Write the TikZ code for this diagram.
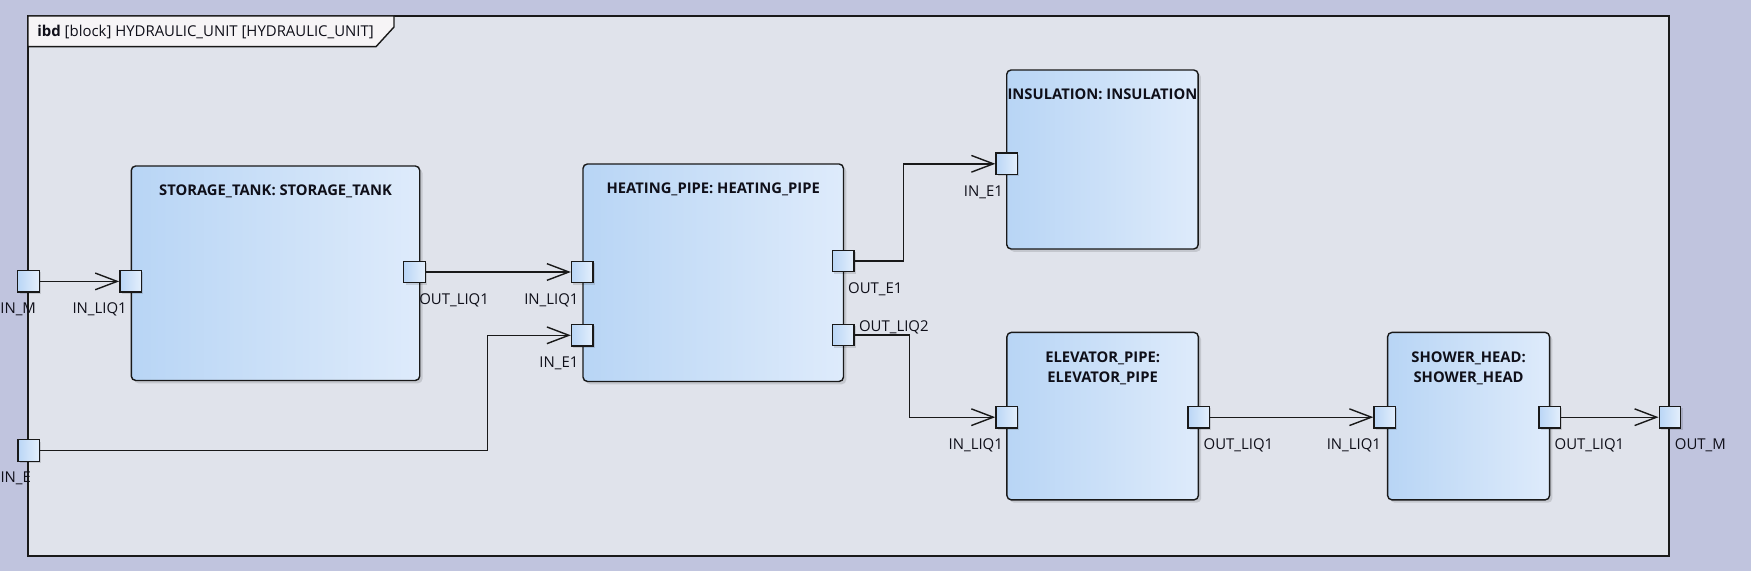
\documentclass[tikz,border=0pt]{standalone}
\usepackage{fontspec}
\setmainfont{Open Sans}
\usetikzlibrary{arrows.meta}
\definecolor{outerbg}{RGB}{192,196,222}
\definecolor{framebg}{RGB}{224,227,235}
\definecolor{tabfill}{RGB}{246,244,246}
\definecolor{blockleft}{RGB}{184,213,245}
\definecolor{blockright}{RGB}{222,235,251}
\definecolor{portleft}{RGB}{186,214,246}
\definecolor{portright}{RGB}{228,239,252}
\definecolor{edgedark}{RGB}{25,25,25}
\definecolor{labeltext}{RGB}{15,15,25}

\tikzset{
  block/.style={draw=edgedark, line width=0.8pt, rounded corners=2.5pt,
    left color=blockleft, right color=blockright, anchor=north west, inner sep=0pt,
    preaction={fill=black, opacity=0.12, transform canvas={xshift=1.6pt,yshift=-1.6pt}}},
  blocktitle/.style={font=\fontsize{8.4}{11.4}\selectfont\bfseries, text=labeltext,
    anchor=north, inner sep=0pt, align=center},
  port/.style={draw=edgedark, line width=0.8pt, left color=portleft, right color=portright,
    minimum size=0.43cm, inner sep=0pt,
    preaction={fill=black, opacity=0.12, transform canvas={xshift=1pt,yshift=-1pt}}},
  portlbl/.style={font=\fontsize{8.5}{10}\selectfont, text=labeltext, inner sep=0pt},
  conn/.style={draw=edgedark, line width=0.8pt, -{Straight Barb[length=12.5pt,width=9.5pt]}}
}

\begin{document}
\begin{tikzpicture}[x=0.02cm,y=-0.02cm]
  % --- background ---
  \fill[outerbg] (0,0) rectangle (1751,571);
  \useasboundingbox (0,0) rectangle (1751,571);

  % --- ibd frame and its tab ---
  \draw[edgedark,line width=1pt,fill=framebg] (28,16) rectangle (1669,556);
  \draw[edgedark,line width=0.8pt,fill=tabfill]
    (28,16) -- (394,16) -- (394,27) -- (376,46.7) -- (28,46.7) -- cycle;
  \node[anchor=base west,inner sep=0pt,font=\fontsize{8.5}{10}\selectfont,text=labeltext]
    (ibdttl) at (37,36.5) {\textbf{ibd} [block] HYDRAULIC\_UNIT [HYDRAULIC\_UNIT]};

  % --- blocks ---
  \node[block, minimum width=5.77cm, minimum height=4.29cm] (tank) at (130.6,165.3) {};
  \node[block, minimum width=5.21cm, minimum height=4.35cm] (heat) at (582.3,163.3) {};
  \node[block, minimum width=3.83cm, minimum height=3.58cm] (insul) at (1006,69.3) {};
  \node[block, minimum width=3.83cm, minimum height=3.35cm] (elev) at (1006.2,331.7) {};
  \node[block, minimum width=3.24cm, minimum height=3.35cm] (shower) at (1386.9,331.7) {};

  \node[blocktitle] (tankttl) at ([yshift=-0.39cm]tank.north) {STORAGE\_TANK: STORAGE\_TANK};
  \node[blocktitle] (heatttl) at ([yshift=-0.39cm]heat.north) {HEATING\_PIPE: HEATING\_PIPE};
  \node[blocktitle] (insulttl) at ([yshift=-0.39cm]insul.north) {INSULATION: INSULATION};
  \node[blocktitle] (elevttl) at ([yshift=-0.39cm]elev.north) {ELEVATOR\_PIPE:\\ELEVATOR\_PIPE};
  \node[blocktitle] (showerttl) at ([yshift=-0.39cm]shower.north) {SHOWER\_HEAD:\\SHOWER\_HEAD};

  % --- ports ---
  \node[port] (inm) at (28.5,281.4) {};
  \node[port] (ine) at (28.7,450.5) {};
  \node[port] (outm) at (1670,417.2) {};
  \node[port] (tank_in) at (130.6,281.4) {};
  \node[port] (tank_out) at (414.5,272) {};
  \node[port] (heat_inliq) at (582.3,272) {};
  \node[port] (heat_ine) at (582.3,335.3) {};
  \node[port] (heat_oute) at (843.3,261) {};
  \node[port] (heat_outliq) at (843.3,335) {};
  \node[port] (insul_ine) at (1006.8,163.8) {};
  \node[port] (elev_in) at (1006.7,417.2) {};
  \node[port] (elev_out) at (1198.8,417.2) {};
  \node[port] (shower_in) at (1384.8,417.2) {};
  \node[port] (shower_out) at (1549.8,417.2) {};

  % --- connectors ---
  \draw[conn] (inm) -- (tank_in);
  \draw[conn] (tank_out) -- (heat_inliq);
  \draw[conn] (ine.east) -- +(447.5,0) |- (heat_ine.west);
  \draw[conn] (heat_oute.east) -- +(49,0) |- (insul_ine.west);
  \draw[conn] (heat_outliq.east) -- +(55,0) |- (elev_in.west);
  \draw[conn] (elev_out) -- (shower_in);
  \draw[conn] (shower_out) -- (outm);

  % --- port labels ---
  \foreach \p/\t in {tank_in/IN\_LIQ1, heat_inliq/IN\_LIQ1, heat_ine/IN\_E1,
      insul_ine/IN\_E1, elev_in/IN\_LIQ1, shower_in/IN\_LIQ1}{
    \node[portlbl,anchor=base east] (lbl-\p) at ([xshift=-0.07cm,yshift=-0.42cm]\p.south) {\t};
  }
  \foreach \p/\t in {tank_out/OUT\_LIQ1, heat_oute/OUT\_E1, elev_out/OUT\_LIQ1,
      shower_out/OUT\_LIQ1, outm/OUT\_M}{
    \node[portlbl,anchor=base west] (lbl-\p) at ([xshift=0.09cm,yshift=-0.42cm]\p.south) {\t};
  }
  \foreach \p/\t in {inm/IN\_M, ine/IN\_E}{
    \node[portlbl,anchor=base west] (lbl-\p) at ([xshift=-0.57cm,yshift=-0.42cm]\p.south) {\t};
  }
  \node[portlbl,anchor=base west] (lbl-heat_outliq) at ([xshift=0.08cm,yshift=0.08cm]heat_outliq.east) {OUT\_LIQ2};

\end{tikzpicture}
\end{document}
